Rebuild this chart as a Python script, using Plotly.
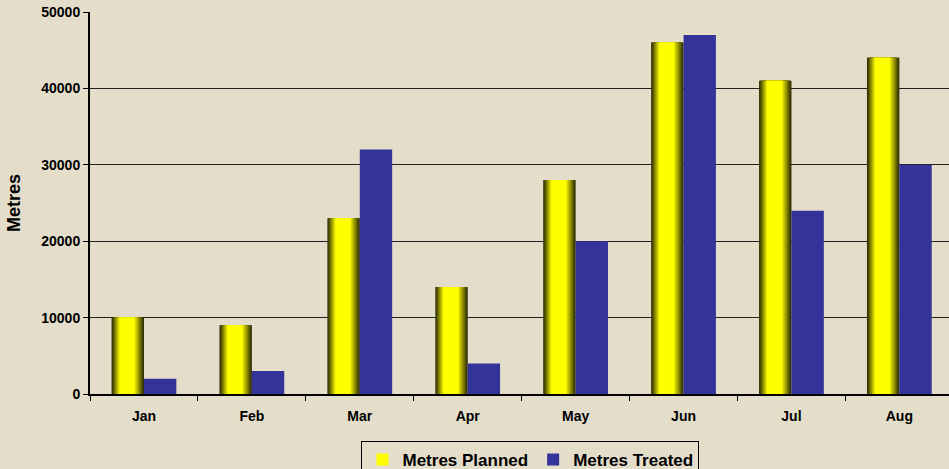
import plotly.graph_objects as go

# chart data
months = ["Jan", "Feb", "Mar", "Apr", "May", "Jun", "Jul", "Aug"]
metres_planned = [10000, 9000, 23000, 14000, 28000, 46000, 41000, 44000]
metres_treated = [2000, 3000, 32000, 4000, 20000, 47000, 24000, 30000]
y_ticks = [0, 10000, 20000, 30000, 40000, 50000]

BG = "#E3DDCA"
BLUE = "#333399"
BAR_W = 0.3
FONT = "Liberation Sans, Arial, sans-serif"


def shade(t):
    """Near-black olive -> pure yellow, t in [0, 1]."""
    lo, hi = (25, 25, 0), (255, 255, 0)
    r, g, b = (int(lo[k] + (hi[k] - lo[k]) * t) for k in range(3))
    return f"rgb({r},{g},{b})"


fig = go.Figure()

# Yellow "cylinder" bars: nested overlays, narrower and brighter towards the
# bright band (a bit left of centre, like the Excel gradient fill)
levels = 12
for i in range(levels):
    left = 0.27 * i / levels
    right = 1 - 0.32 * i / levels
    fig.add_trace(
        go.Bar(
            x=months,
            y=metres_planned,
            offset=-BAR_W + left * BAR_W,
            width=(right - left) * BAR_W,
            marker=dict(color=shade((i + 1) / levels), line=dict(width=0)),
            name="Metres Planned",
            showlegend=(i == levels - 1),
            legendrank=1,
        )
    )

fig.add_trace(
    go.Bar(
        x=months,
        y=metres_treated,
        offset=0,
        width=BAR_W,
        marker=dict(color=BLUE, line=dict(width=0)),
        name="Metres Treated",
        legendrank=2,
    )
)

fig.update_layout(
    width=949,
    height=469,
    barmode="overlay",
    paper_bgcolor=BG,
    plot_bgcolor=BG,
    font=dict(family=FONT, color="black"),
    margin=dict(l=90, r=0, t=12, b=75),
    # container refs so the legend (cut off at the bottom edge) doesn't push the margins
    legend=dict(
        orientation="h",
        xref="container",
        yref="container",
        x=0.559,
        xanchor="center",
        y=0.06,
        yanchor="top",
        bgcolor=BG,
        bordercolor="black",
        borderwidth=1,
        font=dict(size=17, family=FONT, weight="bold"),
        itemwidth=30,
        traceorder="normal",
    ),
)

fig.update_xaxes(
    range=[-0.5, 7.46],
    automargin=False,
    showline=True,
    linecolor="black",
    linewidth=2,
    ticks="outside",
    tickson="boundaries",
    ticklen=5,
    tickcolor="black",
    ticklabelstandoff=8,
    tickfont=dict(size=14, family=FONT, weight="bold"),
    showgrid=False,
)

fig.update_yaxes(
    range=[0, 50000],
    tickvals=y_ticks,
    tickformat="d",
    automargin=False,
    showline=True,
    linecolor="black",
    linewidth=2,
    ticks="outside",
    ticklen=5,
    tickcolor="black",
    showgrid=True,
    gridcolor="#222222",
    gridwidth=1.3,
    zeroline=False,
    tickfont=dict(size=14, family=FONT, weight="bold"),
    title=dict(text="Metres", font=dict(size=18, family=FONT, weight="bold"), standoff=16),
)

# page body has a default 8px margin; drop it so the 949x469 figure fills the window
fig.write_html(
    "out.html",
    config={"displayModeBar": False},
    post_script="document.body.style.margin='0';document.body.style.overflow='hidden';",
)
